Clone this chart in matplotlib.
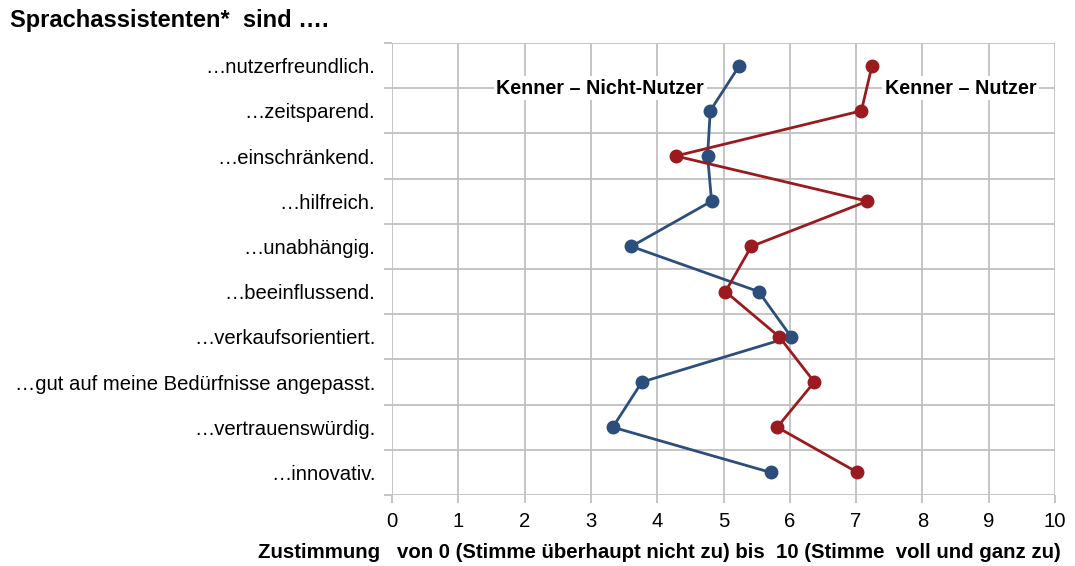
import matplotlib
matplotlib.use("Agg")
import matplotlib.pyplot as plt

categories = ["…nutzerfreundlich.", "…zeitsparend.", "…einschränkend.", "…hilfreich.",
              "…unabhängig.", "…beeinflussend.", "…verkaufsorientiert.",
              "…gut auf meine Bedürfnisse angepasst.", "…vertrauenswürdig.", "…innovativ."]
nicht_nutzer = [5.24, 4.80, 4.76, 4.82, 3.61, 5.53, 6.02, 3.77, 3.33, 5.71]
nutzer = [7.24, 7.08, 4.28, 7.17, 5.42, 5.03, 5.84, 6.37, 5.81, 7.02]
xticks = list(range(0, 11))

plt.rcParams['font.family'] = ['Liberation Sans', 'DejaVu Sans']

fig = plt.figure(figsize=(10.75, 5.66), dpi=100)
ax = fig.add_axes([392/1075, 1-495/566, (1055-392)/1075, (495-43)/566])

n = len(categories)
ypos = [i + 0.5 for i in range(n)]
grid_c = '#c0c0c0'
for i in range(n + 1):
    ax.axhline(i, color=grid_c, lw=1.3, zorder=0)
for x in xticks:
    ax.axvline(x, color=grid_c, lw=1.3, zorder=0)

blue = '#2c4e7d'
red = '#9a1a1f'
ax.plot(nicht_nutzer, ypos, color=blue, lw=2.0, marker='o', ms=9, zorder=3)
ax.plot(nutzer, ypos, color=red, lw=2.0, marker='o', ms=9, zorder=3)

ax.set_xlim(0, 10)
ax.set_ylim(n, 0)
ax.set_yticks(ypos)
ax.set_yticklabels(categories, fontsize=14.6)
ax.set_yticks(range(n + 1), minor=True)
ax.tick_params(axis='y', which='major', length=0, pad=12)
ax.tick_params(axis='y', which='minor', length=6, color=grid_c, width=1.3)
ax.set_xticks(xticks)
ax.set_xticklabels([str(x) for x in xticks], fontsize=14.6)
ax.tick_params(axis='x', length=6, color=grid_c, width=1.3, pad=6)
for s in ax.spines.values():
    s.set_visible(False)

ax.text(3.14, 1.0, "Kenner – Nicht-Nutzer", fontsize=14.2, fontweight='bold', ha='center', va='center',
        bbox=dict(facecolor='white', edgecolor='none', pad=2), zorder=2)
ax.text(8.58, 1.0, "Kenner – Nutzer", fontsize=14.2, fontweight='bold', ha='center', va='center',
        bbox=dict(facecolor='white', edgecolor='none', pad=2), zorder=2)

fig.text(10/1075, 1-20/566, "Sprachassistenten*  sind ….", fontsize=17, fontweight='bold', ha='left', va='center')
fig.text(258/1075, 1-553/566, "Zustimmung   von 0 (Stimme überhaupt nicht zu) bis  10 (Stimme  voll und ganz zu)",
         fontsize=14.7, fontweight='bold', ha='left', va='center')

fig.savefig("out.png", dpi=100)
